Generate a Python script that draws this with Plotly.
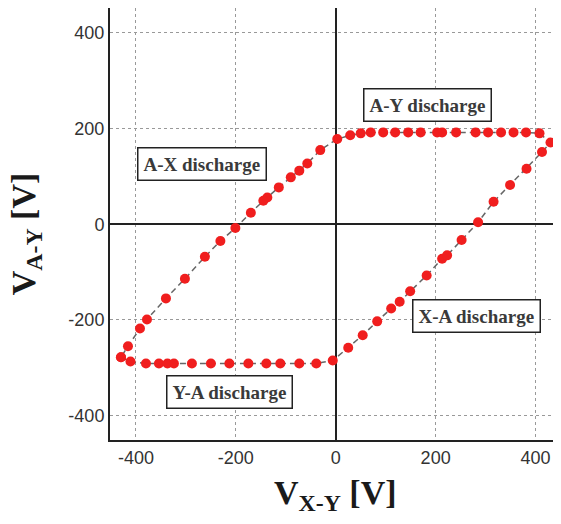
import plotly.graph_objects as go

# Loop of measured points (V_X-Y, V_A-Y), in order around the cycle
vxy = [-430, -411, -380, -354, -337, -324, -288, -250, -213, -175, -139, -111, -73, -39, -6,
       25, 54, 83, 111, 128, 149, 182, 213, 223, 252, 285, 316, 349, 382, 413, 430,
       408, 381, 356, 331, 305, 280, 241, 213, 203, 170, 145, 119, 95, 70, 50, 29, 3,
       -31, -57, -73, -90, -114, -137, -145, -170, -201, -231, -262, -302, -340, -378, -392, -416, -430]
vay = [-278, -287, -291, -291, -291, -291, -291, -291, -291, -291, -291, -291, -291, -291, -285,
       -258, -232, -203, -176, -162, -140, -107, -72, -65, -33, 4, 47, 82, 116, 151, 171,
       190, 192, 192, 192, 192, 192, 192, 192, 192, 192, 192, 192, 192, 192, 190, 186, 178,
       155, 127, 112, 98, 77, 56, 49, 24, -8, -35, -68, -114, -155, -199, -218, -255, -278]

labels = ["A-X discharge", "A-Y discharge", "Y-A discharge", "X-A discharge"]
label_x = [-268, 184, -212, 282]
label_y = [126, 250, -351, -191]

tickvals = [-400, -200, 0, 200, 400]
ticktext = ["-400", "-200", "0", "200", "400"]

fig = go.Figure()
fig.add_trace(go.Scatter(
    x=vxy, y=vay, mode="lines+markers",
    line=dict(color="#666666", width=1.5, dash="6px,4px"),
    marker=dict(color="#f01e1e", size=10, line=dict(width=0)),
    showlegend=False, hoverinfo="skip", cliponaxis=True))

for t, x, y in zip(labels, label_x, label_y):
    fig.add_annotation(x=x, y=y, text="<b>" + t + "</b>", showarrow=False,
                       font=dict(family="Liberation Serif", size=19, color="#3a3a3a"),
                       bgcolor="white", bordercolor="#222222", borderwidth=1.5, borderpad=5)

# axis titles
fig.add_annotation(x=0, xref="x", y=0, yref="paper", yshift=-55, yanchor="middle",
                   text="<b>V<sub>X-Y</sub> [V]</b>", showarrow=False,
                   font=dict(family="Liberation Serif", size=34, color="#1a1a1a"))
fig.add_annotation(x=0, xref="paper", xshift=-84, y=0, yref="y", yshift=-10,
                   yanchor="middle", xanchor="center", textangle=-90,
                   text="<b>V<sub>A-Y</sub> [V]</b>", showarrow=False,
                   font=dict(family="Liberation Serif", size=34, color="#1a1a1a"))

axis_common = dict(
    tickvals=tickvals, ticktext=ticktext, ticks="", showgrid=True, gridcolor="#999999",
    griddash="dot", gridwidth=1,
    zeroline=True, zerolinecolor="#222222", zerolinewidth=2,
    showline=True, linecolor="#222222", linewidth=2, automargin=False,
    tickfont=dict(family="Liberation Sans", size=18, color="#333333"),
)

fig.update_xaxes(range=[-452, 435], mirror=True, **axis_common)
fig.update_yaxes(range=[-451, 452], mirror=False, **axis_common)

fig.update_layout(width=545, height=508, margin=dict(l=102, r=0, t=0, b=76),
                  plot_bgcolor="white", paper_bgcolor="white")

fig.write_html("out.html")
